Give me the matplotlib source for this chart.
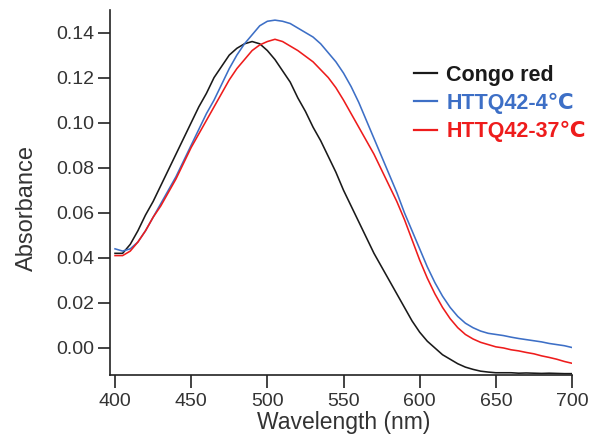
import matplotlib
matplotlib.use("Agg")
import matplotlib.pyplot as plt

plt.rcParams['font.family'] = ['Liberation Sans', 'DejaVu Sans']

wavelength = list(range(400, 705, 5))

congo_red = [0.042, 0.042, 0.046, 0.052, 0.059, 0.065, 0.072, 0.079, 0.086, 0.093,
             0.100, 0.107, 0.113, 0.120, 0.125, 0.130, 0.133, 0.135, 0.136, 0.135,
             0.132, 0.128, 0.123, 0.118, 0.111, 0.105, 0.098, 0.092, 0.085, 0.078,
             0.070, 0.063, 0.056, 0.049, 0.042, 0.036, 0.030, 0.024, 0.018, 0.012,
             0.007, 0.003, 0.000, -0.003, -0.005, -0.007, -0.0085, -0.0095, -0.0103, -0.0107,
             -0.011, -0.011, -0.011, -0.0112, -0.0111, -0.0112, -0.0113, -0.0112, -0.0113, -0.0114,
             -0.0114]

httq_4 = [0.044, 0.043, 0.044, 0.047, 0.052, 0.058, 0.064, 0.070, 0.076, 0.083,
          0.090, 0.097, 0.104, 0.110, 0.117, 0.124, 0.130, 0.135, 0.139, 0.143,
          0.145, 0.1455, 0.145, 0.144, 0.142, 0.140, 0.138, 0.135, 0.131, 0.127,
          0.122, 0.116, 0.109, 0.101, 0.093, 0.085, 0.077, 0.069, 0.060, 0.052,
          0.044, 0.036, 0.029, 0.023, 0.018, 0.014, 0.011, 0.009, 0.0075, 0.0065,
          0.006, 0.0055, 0.0048, 0.0042, 0.0037, 0.0032, 0.0027, 0.002, 0.0015, 0.001,
          0.0002]

httq_37 = [0.041, 0.041, 0.043, 0.047, 0.052, 0.058, 0.063, 0.069, 0.075, 0.082,
           0.089, 0.095, 0.101, 0.107, 0.113, 0.119, 0.124, 0.128, 0.132, 0.1345,
           0.136, 0.137, 0.136, 0.134, 0.132, 0.1295, 0.127, 0.1235, 0.120, 0.1155,
           0.110, 0.104, 0.098, 0.092, 0.086, 0.079, 0.072, 0.065, 0.057, 0.048,
           0.039, 0.031, 0.024, 0.018, 0.013, 0.009, 0.006, 0.004, 0.0025, 0.0015,
           0.0005, 0.0, -0.0008, -0.0013, -0.002, -0.0026, -0.0035, -0.0042, -0.005, -0.006,
           -0.0068]

labels = ["Congo red", "HTTQ42-4\u2103", "HTTQ42-37\u2103"]
colors = ["#1a1a1a", "#3d6fc6", "#ee1c1c"]

x_ticks = [400, 450, 500, 550, 600, 650, 700]
y_ticks = [0.00, 0.02, 0.04, 0.06, 0.08, 0.10, 0.12, 0.14]

W, H = 589, 438
fig = plt.figure(figsize=(W / 100, H / 100), dpi=100)
ax = fig.add_axes([110 / W, 1 - 375 / H, (572 - 110) / W, (375 - 10) / H])

for series, lab, col in zip([congo_red, httq_4, httq_37], labels, colors):
    ax.plot(wavelength, series, color=col, lw=1.15, label=lab)

ax.set_xlim(396.7, 700)
ax.set_ylim(-0.012, 0.150)
ax.set_xticks(x_ticks)
ax.set_yticks(y_ticks)
ax.set_yticklabels([f"{v:.2f}" for v in y_ticks])

txtcol = "#333333"
for s in ["top", "right"]:
    ax.spines[s].set_visible(False)
for s in ["left", "bottom"]:
    ax.spines[s].set_color("#222222")
    ax.spines[s].set_linewidth(1.2)
ax.tick_params(axis="both", direction="out", length=9, width=1.2, colors="#222222",
               labelsize=14, labelcolor=txtcol)
ax.tick_params(axis="y", pad=2)
ax.tick_params(axis="x", pad=4)

ax.set_xlabel("Wavelength (nm)", fontsize=16.5, color=txtcol)
ax.set_ylabel("Absorbance", fontsize=17, color=txtcol)
ax.xaxis.set_label_coords((343.5 - 110) / 462, -(410.5 - 375) / 365)
ax.yaxis.set_label_coords((38 - 110) / 462, 1 - (208 - 10) / 365)

leg = ax.legend(loc="upper left", bbox_to_anchor=((405 - 110) / 462, 1 - (56 - 10) / 365),
                frameon=False, handlelength=1.1, handletextpad=0.42, labelspacing=0.33,
                prop={"weight": "bold", "size": 15.5}, labelcolor="linecolor", borderaxespad=0)
for line in leg.get_lines():
    line.set_linewidth(1.6)

fig.savefig("out.png", dpi=100)
